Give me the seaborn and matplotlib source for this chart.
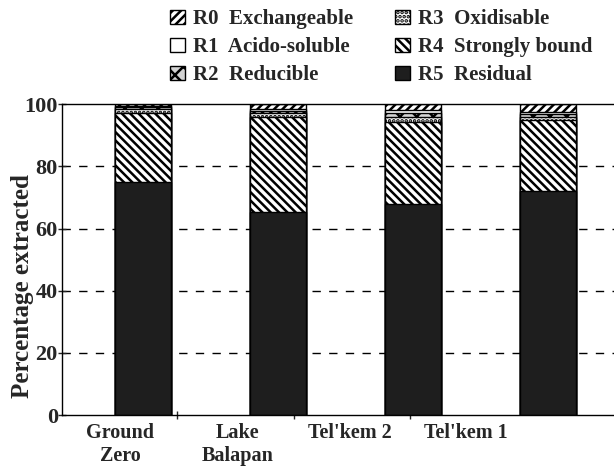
import matplotlib
matplotlib.use("Agg")
import matplotlib.pyplot as plt
import seaborn as sns
import pandas as pd
from matplotlib.patches import Patch

# Дані (відсотки)
sites = ["Ground\nZero", "Lake\nBalapan", "Tel'kem 2", "Tel'kem 1"]
r5 = [75.0, 65.2, 67.8, 72.0]
r4 = [22.3, 30.6, 26.6, 23.0]
r3 = [1.0, 1.2, 1.4, 1.0]
r2 = [0.8, 0.8, 1.2, 0.8]
r1 = [0.4, 0.5, 1.0, 0.7]
r0 = [0.5, 1.7, 2.0, 2.5]

fractions = ["R0", "R1", "R2", "R3", "R4", "R5"]
frac_names = ["Exchangeable", "Acido-soluble", "Reducible",
              "Oxidisable", "Strongly bound", "Residual"]

df = pd.DataFrame({"site": sites, "R5": r5, "R4": r4, "R3": r3,
                   "R2": r2, "R1": r1, "R0": r0})

# стилі для фракцій
styles = {
    "R0": dict(color="white", hatch="////"),
    "R1": dict(color="white", hatch=""),
    "R2": dict(color="#d4d4d4", hatch="xx"),
    "R3": dict(color="white", hatch="...."),
    "R4": dict(color="white", hatch="\\\\\\\\"),
    "R5": dict(color="#1e1e1e", hatch=""),
}

sns.set_style("ticks")
plt.rcParams["font.family"] = ["Liberation Serif", "DejaVu Serif"]
plt.rcParams["font.weight"] = "bold"
plt.rcParams["hatch.linewidth"] = 1.8

fig = plt.figure(figsize=(6.14, 4.67), dpi=100)
ax = fig.add_axes([0.101, 0.111, 0.899, 0.666])

# накопичені суми зверху вниз: R0 зверху
order_top_down = ["R0", "R1", "R2", "R3", "R4", "R5"]
stack_bottom_up = ["R5", "R4", "R3", "R2", "R1", "R0"]
for i, fr in enumerate(order_top_down):
    cols = stack_bottom_up[:len(stack_bottom_up) - i]
    cum = df[cols].sum(axis=1)
    sns.barplot(x=df["site"], y=cum, ax=ax, width=0.42,
                color=styles[fr]["color"], hatch=styles[fr]["hatch"],
                edgecolor="black", linewidth=1.0, saturation=1)

ax.set_xlim(-0.6, 3.49)
ax.set_ylim(0, 100)
ax.set_yticks([0, 20, 40, 60, 80, 100])
for yv in [20, 40, 60, 80]:
    ax.axhline(yv, color="black", ls=(0, (6, 6)), lw=1.0, zorder=0)

# підписи категорій зміщені відносно стовпців, як в оригіналі
ax.set_xticks([-0.17, 0.70, 1.53, 2.39])
ax.set_xticklabels(sites, fontsize=14.5, fontweight="bold", va="top")
ax.set_xticks([0.25, 1.12, 1.98], minor=True)
ax.tick_params(axis="x", which="major", length=0, pad=6)
ax.tick_params(axis="x", which="minor", length=6, direction="inout", width=1)
ax.tick_params(axis="y", length=6, direction="inout", width=1,
               labelsize=16, pad=0)
for t in ax.get_yticklabels():
    t.set_fontweight("bold")

ax.set_xlabel("")
ax.set_ylabel("Percentage extracted", fontsize=18, fontweight="bold")
ax.yaxis.set_label_coords(-0.05, 0.415)
ax.spines["right"].set_visible(False)
for s in ["left", "bottom", "top"]:
    ax.spines[s].set_linewidth(1.0)
    ax.spines[s].set_color("black")

handles = [Patch(facecolor=styles[f]["color"], hatch=styles[f]["hatch"],
                 edgecolor="black", linewidth=1.0) for f in fractions]
labels = [f"{f}  {n}" for f, n in zip(fractions, frac_names)]
fig.legend(handles, labels, ncol=2, loc="upper left",
           bbox_to_anchor=(0.247, 1.02), frameon=False,
           prop={"size": 15, "weight": "bold"},
           handlelength=0.7, handleheight=0.7, handletextpad=0.4,
           columnspacing=2.0, labelspacing=0.38)

fig.savefig("out.png", dpi=100)
